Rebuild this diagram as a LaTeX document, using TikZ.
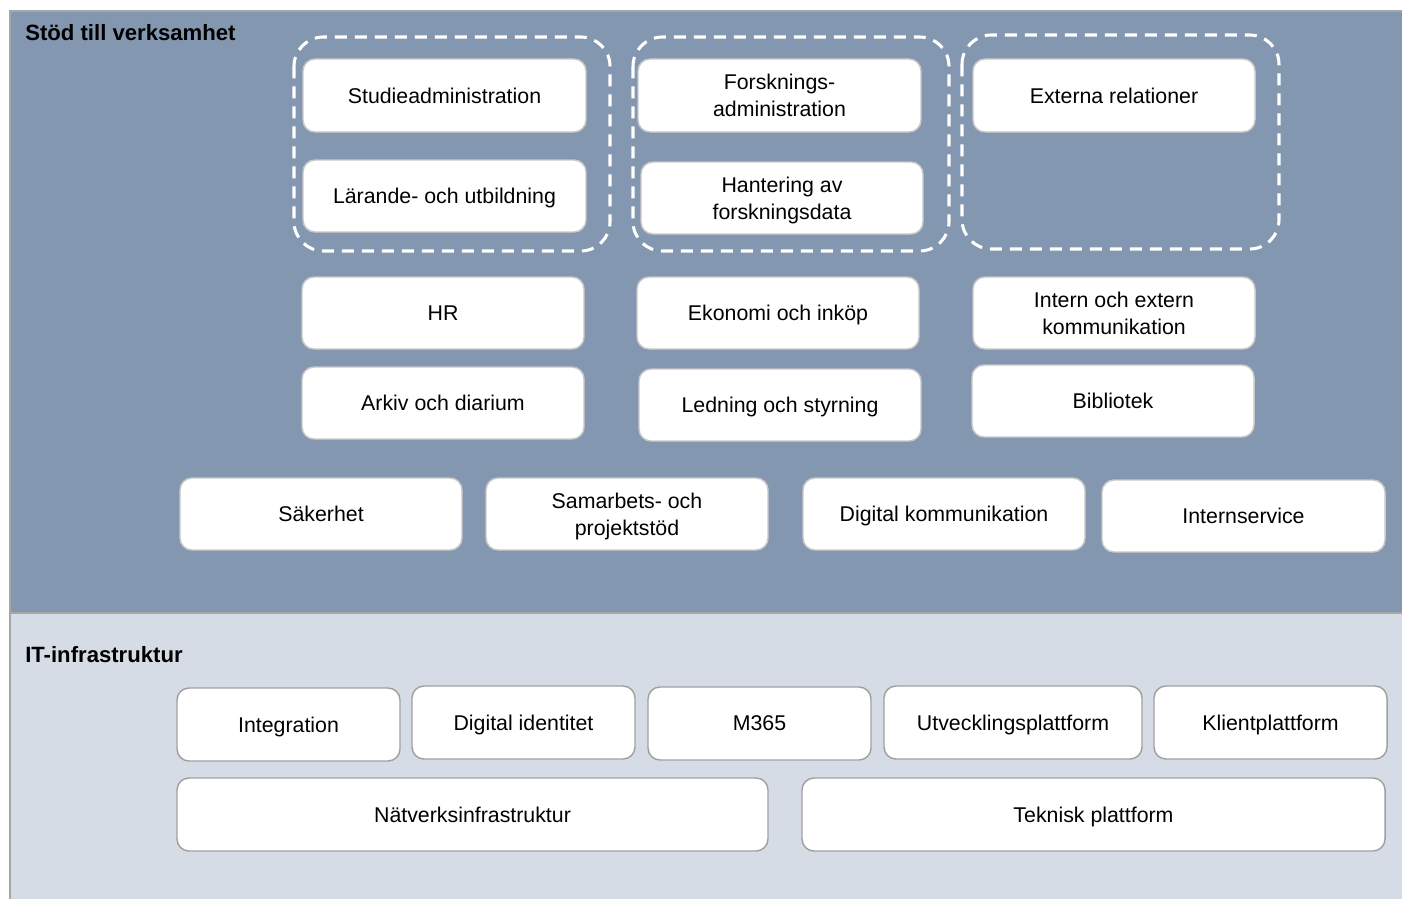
\documentclass[tikz,border=0pt]{standalone}
\usepackage{fontspec}
\setmainfont{Liberation Sans}
\definecolor{topbg}{HTML}{8497B0}
\definecolor{botbg}{HTML}{D6DCE5}
\definecolor{panelline}{HTML}{A6A6A6}
\definecolor{boxline}{HTML}{C8C8C8}
\definecolor{boxline2}{HTML}{A0A0A0}
\tikzset{
  pbox/.style={draw=boxline, line width=1.1pt, fill=white, rounded corners=9pt, align=center, inner sep=0pt,
    font=\fontsize{16}{20}\selectfont, text=black},
  ibox/.style={pbox, draw=boxline2},
  grp/.style={draw=white, line width=2.3pt, dash pattern=on 9pt off 6pt, rounded corners=22pt},
  panel/.style={draw=panelline, line width=1.2pt},
  ptitle/.style={anchor=west, font=\bfseries\fontsize{16.6}{19}\selectfont, inner sep=0pt}
}
\newcommand{\bx}[7][pbox]{%
  \pgfmathsetmacro{\cx}{(#3+#5)/2}\pgfmathsetmacro{\cy}{(#4+#6)/2}%
  \pgfmathsetmacro{\ww}{(#5-#3)*0.75}\pgfmathsetmacro{\hh}{(#6-#4)*0.75}%
  \node[#1, minimum width=\ww pt, minimum height=\hh pt, text depth=0pt] (#2) at (\cx,\cy) {#7};}
\begin{document}
\begin{tikzpicture}[x=0.75pt, y=-0.75pt]
\useasboundingbox (0,0) rectangle (1402,899);
% panels
\fill[topbg] (10,11) rectangle (1402,613);
\fill[botbg] (10,613) rectangle (1402,899);
\draw[panel] (1403,11) -- (10,11) -- (10,899);
\draw[panel] (10,613) -- (1403,613);
\node[ptitle] (t1) at (25,33) {Stöd till verksamhet};
\node[ptitle] (t2) at (25,655) {IT-infrastruktur};
% dashed groups
\draw[grp] (294,37) rectangle (610,251);
\draw[grp] (633,37) rectangle (949,251);
\draw[grp] (962,35) rectangle (1279,249);
% top boxes
\bx{studie}{303}{59}{586}{132}{Studieadministration}
\bx{larande}{303}{160}{586}{232}{Lärande- och utbildning}
\bx{forsk}{638}{59}{921}{132}{Forsknings-\\administration}
\bx{hant}{641}{162}{923}{234}{Hantering av\\forskningsdata}
\bx{ext}{973}{59}{1255}{132}{Externa relationer}
\bx{hr}{302}{277}{584}{349}{HR}
\bx{eko}{637}{277}{919}{349}{Ekonomi och inköp}
\bx{komm}{973}{277}{1255}{349}{Intern och extern\\kommunikation}
\bx{arkiv}{302}{367}{584}{439}{Arkiv och diarium}
\bx{ledn}{639}{369}{921}{441}{Ledning och styrning}
\bx{bibl}{972}{365}{1254}{437}{Bibliotek}
\bx{sak}{180}{478}{462}{550}{Säkerhet}
\bx{samarb}{486}{478}{768}{550}{Samarbets- och\\projektstöd}
\bx{digk}{803}{478}{1085}{550}{Digital kommunikation}
\bx{intserv}{1102}{480}{1385}{552}{Internservice}
% IT boxes
\bx[ibox]{integ}{177}{688}{400}{761}{Integration}
\bx[ibox]{digid}{412}{686}{635}{759}{Digital identitet}
\bx[ibox]{m365}{648}{687}{871}{760}{M365}
\bx[ibox]{utv}{884}{686}{1142}{759}{Utvecklingsplattform}
\bx[ibox]{klient}{1154}{686}{1387}{759}{Klientplattform}
\bx[ibox]{nat}{177}{778}{768}{851}{Nätverksinfrastruktur}
\bx[ibox]{tekn}{802}{778}{1385}{851}{Teknisk plattform}
\end{tikzpicture}
\end{document}
